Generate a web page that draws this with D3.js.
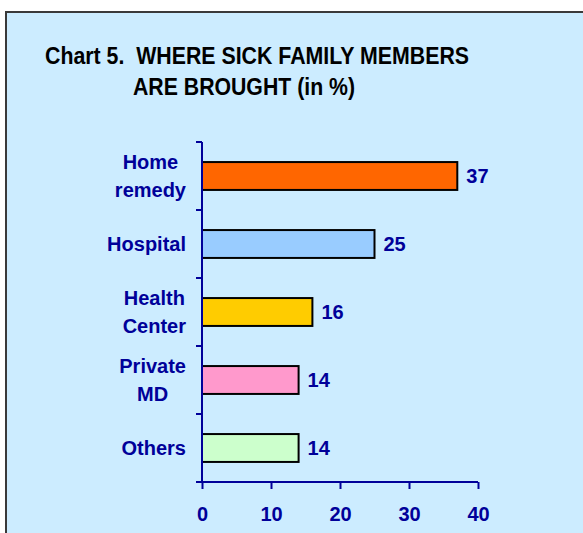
<!DOCTYPE html>
<html>
<head>
<meta charset="utf-8">
<script src="https://cdn.jsdelivr.net/npm/d3@7"></script>
<style>
  body { margin: 0; background: #fff; }
  svg text { font-family: "Liberation Sans", Arial, sans-serif; font-weight: bold; }
</style>
</head>
<body>
<svg id="chart" width="583" height="533"></svg>
<script>
// data
var categories = [["Home", "remedy"], ["Hospital"], ["Health", "Center"], ["Private", "MD"], ["Others"]];
var values = [37, 25, 16, 14, 14];
var barColors = ["#FF6600", "#99CCFF", "#FFCC00", "#FF99CC", "#CCFFCC"];
var xTicks = [0, 10, 20, 30, 40];
var titleLines = ["Chart 5.  WHERE SICK FAMILY MEMBERS", "ARE BROUGHT (in %)"];

var navy = "#000099";
var svg = d3.select("#chart");

// panel
svg.append("rect")
  .attr("x", 6).attr("y", 12)
  .attr("width", 600).attr("height", 560)
  .attr("fill", "#CCECFF")
  .attr("stroke", "#3a3a3a").attr("stroke-width", 2);

// title (narrow bold face, so squeeze it)
svg.append("text").attr("x", 45).attr("y", 64)
  .attr("font-size", 24).attr("fill", "#000")
  .attr("textLength", 424).attr("lengthAdjust", "spacingAndGlyphs")
  .style("white-space", "pre")
  .text(titleLines[0]);
svg.append("text").attr("x", 133).attr("y", 95)
  .attr("font-size", 24).attr("fill", "#000")
  .attr("textLength", 222).attr("lengthAdjust", "spacingAndGlyphs")
  .text(titleLines[1]);

var margin = {left: 202, top: 142};
var width = 276, height = 340;

var x = d3.scaleLinear().domain([0, 40]).range([0, width]);
var y = d3.scaleBand().domain(d3.range(values.length)).range([0, height]).paddingInner(0.59).paddingOuter(0.295);
var yBand = d3.scaleBand().domain(d3.range(values.length)).range([0, height]);

var g = svg.append("g").attr("transform", "translate(" + margin.left + "," + margin.top + ")");

// bars
g.selectAll("rect.bar").data(values).enter().append("rect")
  .attr("class", "bar")
  .attr("x", x(0))
  .attr("y", (d, i) => y(i))
  .attr("width", d => x(d))
  .attr("height", y.bandwidth())
  .attr("fill", (d, i) => barColors[i])
  .attr("stroke", "#000").attr("stroke-width", 2);

// value labels
g.selectAll("text.val").data(values).enter().append("text")
  .attr("class", "val")
  .attr("x", d => x(d) + 9)
  .attr("y", (d, i) => y(i) + y.bandwidth() / 2 + 7)
  .attr("font-size", 20).attr("fill", navy)
  .text(d => d);

// y axis line + ticks at band edges
g.append("line").attr("x1", 0).attr("x2", 0).attr("y1", 0).attr("y2", height)
  .attr("stroke", navy).attr("stroke-width", 2);
var edges = yBand.domain().map(i => yBand(i)).concat([height]);
g.selectAll("line.ytick").data(edges).enter().append("line")
  .attr("class", "ytick")
  .attr("x1", -6).attr("x2", 0).attr("y1", d => d).attr("y2", d => d)
  .attr("stroke", navy).attr("stroke-width", 2);

// x axis
var xAxis = g.append("g").attr("transform", "translate(0," + height + ")")
  .call(d3.axisBottom(x).tickValues(xTicks).tickSize(7).tickPadding(18).tickSizeOuter(0));
xAxis.select(".domain").attr("stroke", navy).attr("stroke-width", 2).attr("d", "M-6,0H" + width);
xAxis.selectAll(".tick line").attr("stroke", navy).attr("stroke-width", 2);
xAxis.selectAll(".tick text").attr("fill", navy).attr("font-size", 20)
  .attr("font-family", "Liberation Sans, Arial, sans-serif").attr("font-weight", "bold");

// category labels: lines centred on each other, block right-aligned at x=186
categories.forEach(function(lines, i) {
  var cy = yBand(i) + yBand.bandwidth() / 2;
  var lh = 28;
  var t = g.append("text").attr("font-size", 20).attr("fill", navy).attr("text-anchor", "middle");
  var spans = lines.map(function(l, k) {
    return t.append("tspan").attr("y", cy + (k - (lines.length - 1) / 2) * lh + 7).text(l);
  });
  var maxW = d3.max(spans, s => s.node().getComputedTextLength());
  spans.forEach(s => s.attr("x", -16 - maxW / 2));
});
</script>
</body>
</html>
